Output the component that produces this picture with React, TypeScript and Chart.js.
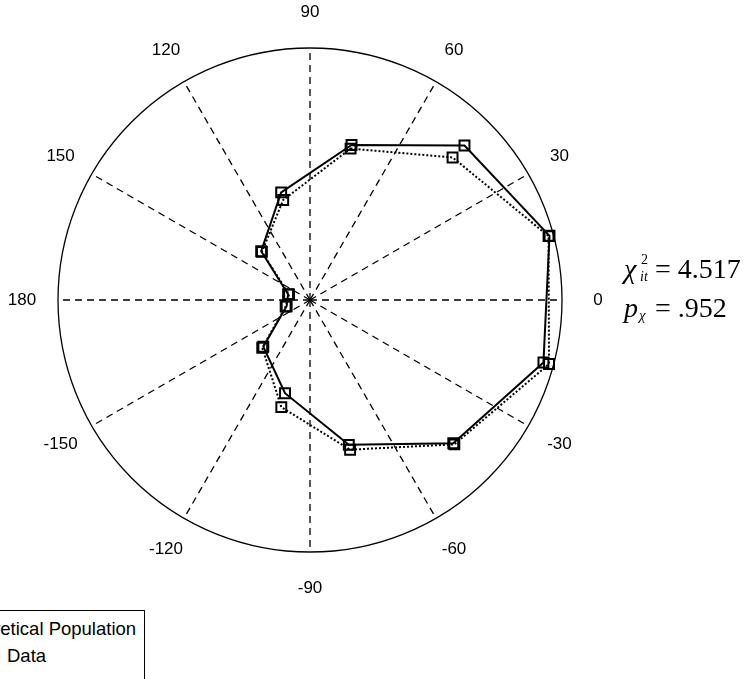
import React, { useEffect, useRef } from "react";
import { Chart, registerables } from "chart.js";

Chart.register(...registerables);

// Bin centre angles (degrees, counter-clockwise from east)
const binAngles = [15, 45, 75, 105, 135, 165, 195, 225, 255, 285, 315, 345];
// Radial values (fraction of outer ring, in %)
const theoretical = [98.4, 86.7, 63.7, 44.2, 27.4, 9.0, 9.6, 26.2, 38.3, 59.5, 80.4, 95.9];
const observed = [98.0, 80.0, 62.2, 41.1, 27.0, 8.6, 10.0, 26.8, 44.0, 61.5, 81.0, 98.2];
// Angle tick labels, clockwise from the top, every 15 degrees (blank = no spoke)
const angleTickLabels = [
  "90", "", "60", "", "30", "", "0", "", "-30", "", "-60", "",
  "-90", "", "-120", "", "-150", "", "180", "", "150", "", "120", "",
];
const seriesNames = ["Theoretical Population", "Data"];
const chiText = "4.517";
const pText = ".952";

const RMAX = 100;

function buildSeries(values: number[]) {
  return angleTickLabels.map((_, i) => {
    let a = 90 - 15 * i;
    a = ((a % 360) + 360) % 360;
    const k = binAngles.indexOf(a);
    return k >= 0 ? values[k] : null;
  });
}

const labelPlugin = {
  id: "angleLabels",
  afterDraw(chart: any) {
    const scale = chart.scales.r;
    const ctx = chart.ctx;
    ctx.save();
    ctx.fillStyle = "#000";
    ctx.font = "17px 'Liberation Sans', Arial, sans-serif";
    ctx.textAlign = "center";
    ctx.textBaseline = "middle";
    angleTickLabels.forEach((lab, i) => {
      if (!lab) return;
      const p = scale.getPointPosition(i, scale.drawingArea + 36);
      ctx.fillText(lab, p.x, p.y);
    });
    ctx.restore();
  },
};

export default function App() {
  const ref = useRef<HTMLCanvasElement | null>(null);

  useEffect(() => {
    if (!ref.current) return;
    const common = {
      borderColor: "#000",
      borderWidth: 2,
      backgroundColor: "rgba(0,0,0,0)",
      fill: false,
      spanGaps: true,
      pointStyle: "rect",
      pointRadius: 7,
      pointBorderWidth: 2,
      pointBorderColor: "#000",
      pointBackgroundColor: "rgba(0,0,0,0)",
    };
    const chart = new Chart(ref.current, {
      type: "radar",
      data: {
        labels: angleTickLabels,
        datasets: [
          { ...common, label: seriesNames[0], data: buildSeries(theoretical) },
          { ...common, label: seriesNames[1], data: buildSeries(observed), borderDash: [2, 2] },
        ],
      },
      options: {
        responsive: false,
        animation: false,
        layout: { padding: { left: 58, top: 48, right: 188, bottom: 127 } },
        plugins: { legend: { display: false }, tooltip: { enabled: false } },
        elements: { line: { tension: 0 } },
        scales: {
          r: {
            min: 0,
            max: RMAX,
            startAngle: 0,
            ticks: { display: false, stepSize: RMAX },
            grid: { circular: true, color: "#000", lineWidth: 1.3 },
            angleLines: {
              display: true,
              color: "#000",
              lineWidth: (c: any) => (c.index % 2 === 0 ? 1.3 : 0),
              borderDash: [7, 5],
            },
            pointLabels: { display: false },
          },
        },
      },
      plugins: [labelPlugin],
    } as any);
    return () => chart.destroy();
  }, []);

  const serif = "'Liberation Serif', 'Times New Roman', serif";
  const sans = "'Liberation Sans', Arial, sans-serif";

  return (
    <div style={{ position: "fixed", left: 0, top: 0, width: 750, height: 679, background: "#fff", overflow: "hidden" }}>
      <canvas ref={ref} width={750} height={679} style={{ position: "absolute", left: 0, top: 0 }} />
      {/* statistics annotation */}
      <div style={{ position: "absolute", left: 0, top: 0, fontFamily: serif, color: "#000" }}>
        <span style={{ position: "absolute", left: 624, top: 253, fontSize: 28, fontStyle: "italic", lineHeight: "32px" }}>χ</span>
        <span style={{ position: "absolute", left: 641, top: 253, fontSize: 14, lineHeight: "14px" }}>2</span>
        <span style={{ position: "absolute", left: 640, top: 270, fontSize: 14, fontStyle: "italic", lineHeight: "14px" }}>it</span>
        <span style={{ position: "absolute", left: 655, top: 253, fontSize: 28, lineHeight: "32px", whiteSpace: "nowrap" }}>= {chiText}</span>
        <span style={{ position: "absolute", left: 624, top: 292, fontSize: 28, fontStyle: "italic", lineHeight: "32px" }}>p</span>
        <span style={{ position: "absolute", left: 639, top: 308, fontSize: 15, fontStyle: "italic", lineHeight: "15px" }}>χ</span>
        <span style={{ position: "absolute", left: 655, top: 292, fontSize: 28, lineHeight: "32px", whiteSpace: "nowrap" }}>= {pText}</span>
      </div>
      {/* legend (partially outside the figure) */}
      <div style={{ position: "absolute", left: -120, top: 610, width: 265, height: 100, border: "1px solid #000", background: "#fff", boxSizing: "border-box" }} />
      <span style={{ position: "absolute", left: -48, top: 618, fontFamily: sans, fontSize: 18.5, lineHeight: "22px", whiteSpace: "nowrap" }}>{seriesNames[0]}</span>
      <span style={{ position: "absolute", left: 7, top: 645, fontFamily: sans, fontSize: 18.5, lineHeight: "22px", whiteSpace: "nowrap" }}>{seriesNames[1]}</span>
    </div>
  );
}
